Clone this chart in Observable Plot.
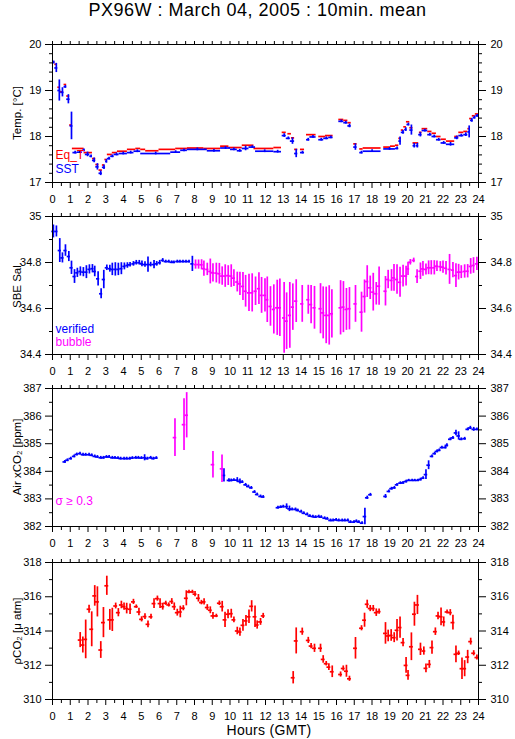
<!DOCTYPE html>
<html>
<head>
<meta charset="utf-8">
<script src="https://cdn.jsdelivr.net/npm/d3@7"></script>
<script src="https://cdn.jsdelivr.net/npm/@observablehq/plot@0.6"></script>
<style>
  html, body { margin: 0; padding: 0; background: white; }
  #wrap { position: relative; width: 515px; height: 739px; background: white; overflow: hidden;
          font-family: "Liberation Sans", Arial, Helvetica, sans-serif; color: black; }
  #title { position: absolute; top: 0px; left: 0; width: 515px; text-align: center; font-size: 18px; line-height: 21px; letter-spacing: 0.5px; }
  #xlabel { position: absolute; top: 722px; left: 169px; width: 200px; text-align: center; font-size: 14px; line-height: 16px; letter-spacing: 0.3px; }
  .panel { position: absolute; left: 0; }
  .ylab { position: absolute; left: 17px; font-size: 11.5px; white-space: nowrap; transform: translate(-50%, -50%) rotate(-90deg); line-height: 13px; }
</style>
</head>
<body>
<div id="wrap">
  <div id="title">PX96W : March 04, 2005 : 10min. mean</div>
  <div id="xlabel">Hours (GMT)</div>
</div>
<script>
// ---------------- DATA ----------------
const hourTicks = [0,1,2,3,4,5,6,7,8,9,10,11,12,13,14,15,16,17,18,19,20,21,22,23,24];
const halfHourTicks = [0.5,1.5,2.5,3.5,4.5,5.5,6.5,7.5,8.5,9.5,10.5,11.5,12.5,13.5,14.5,15.5,16.5,17.5,18.5,19.5,20.5,21.5,22.5,23.5];

// Panel 1: Temperature  [start hour, end hour, value]
const tempMajor = [17, 18, 19, 20];
const tempMinor = [17.2,17.4,17.6,17.8,18.2,18.4,18.6,18.8,19.2,19.4,19.6,19.8];
const eqT = [
[0.00,0.13,19.62],[0.13,0.25,19.57],[0.30,0.45,19.07],[0.45,0.60,18.97],[0.65,0.80,19.13],[0.80,0.97,18.88],[0.97,1.10,18.25],
[1.12,1.78,17.74],[1.78,2.25,17.65],[2.25,2.44,17.52],[2.44,2.62,17.39],[2.62,2.81,17.27],[2.81,2.95,17.38],[2.95,3.09,17.50],
[3.09,3.37,17.61],[3.37,3.66,17.65],[3.66,4.22,17.68],[4.22,4.69,17.72],[4.69,4.97,17.74],[4.97,5.25,17.72],[5.25,6.00,17.69],
[6.00,6.94,17.72],[6.94,7.60,17.74],[7.60,8.53,17.75],[8.53,9.47,17.74],[9.47,9.94,17.79],[9.94,10.69,17.76],[10.69,11.35,17.81],
[11.35,12.47,17.74],[12.47,12.90,17.76],
[12.94,13.17,18.09],[13.26,13.46,18.06],[13.46,13.64,17.97],[13.64,13.82,17.72],[13.97,14.20,17.72],[14.31,14.85,18.04],
[15.00,15.38,18.00],[15.38,15.81,18.02],[16.13,16.41,18.37],[16.41,16.64,18.35],[16.64,16.83,18.30],[16.97,17.16,17.84],
[17.31,17.50,17.73],[17.50,18.51,17.75],[18.66,19.04,17.77],[19.04,19.32,17.79],[19.32,19.51,17.81],[19.51,19.65,17.96],
[19.65,19.79,18.14],[19.79,19.94,18.21],[19.94,20.13,18.32],[20.13,20.31,18.19],[20.31,20.63,17.86],[20.67,20.82,18.09],
[20.82,21.14,18.17],[21.14,21.38,18.11],[21.38,21.63,18.07],[21.63,21.89,18.00],[21.89,22.19,17.94],[22.19,22.66,17.90],
[22.66,22.89,18.00],[22.89,23.17,18.09],[23.17,23.40,18.11],[23.40,23.50,18.17],[23.50,23.65,18.39],[23.65,23.82,18.45],[23.82,24.00,18.49]
];
// [start hour, end hour, value, std]
const sst = [
[0.00,0.13,19.61,0.03],[0.13,0.30,19.49,0.10],[0.30,0.47,19.00,0.23],[0.47,0.65,18.96,0.10],[0.65,0.80,19.08,0.03],[0.80,0.99,18.81,0.10],
[0.99,1.15,18.23,0.30],[1.15,1.40,17.65,0.03],[1.40,1.69,17.66,0.03],[1.69,1.85,17.70,0.03],[1.85,2.10,17.61,0.05],[2.10,2.25,17.57,0.03],
[2.25,2.44,17.48,0.05],[2.44,2.62,17.34,0.07],[2.62,2.81,17.20,0.05],[2.81,2.99,17.33,0.05],[2.99,3.09,17.46,0.04],[3.09,3.28,17.52,0.03],
[3.28,3.47,17.57,0.03],[3.47,3.75,17.61,0.03],[3.75,4.22,17.63,0.03],[4.22,4.59,17.65,0.03],[4.59,4.97,17.68,0.03],[4.97,6.66,17.63,0.03],
[6.66,7.22,17.66,0.03],[7.22,7.60,17.70,0.03],[7.60,8.72,17.72,0.03],[8.72,9.47,17.69,0.03],[9.47,10.03,17.75,0.03],[10.03,10.41,17.72,0.03],
[10.41,10.69,17.69,0.03],[10.69,11.07,17.74,0.05],[11.07,11.44,17.77,0.03],[11.44,12.47,17.68,0.03],[12.47,12.90,17.67,0.03],
[12.94,13.17,18.02,0.04],[13.17,13.40,17.96,0.03],[13.40,13.64,17.90,0.07],[13.64,13.82,17.63,0.09],[13.97,14.20,17.65,0.03],
[14.31,14.50,17.93,0.03],[14.50,14.85,17.99,0.03],[15.00,15.28,17.93,0.03],[15.28,15.56,17.96,0.03],[15.56,15.81,17.98,0.03],
[16.13,16.41,18.33,0.03],[16.41,16.64,18.30,0.03],[16.64,16.83,18.23,0.04],[16.97,17.16,17.77,0.07],[17.31,17.50,17.65,0.03],
[17.50,18.51,17.68,0.03],[18.66,19.32,17.73,0.03],[19.32,19.51,17.74,0.03],[19.51,19.65,17.90,0.09],[19.65,19.84,18.09,0.04],
[19.84,19.97,18.15,0.04],[19.97,20.13,18.26,0.03],[20.13,20.31,18.14,0.11],[20.31,20.45,17.80,0.05],[20.48,20.63,17.80,0.05],
[20.63,20.82,18.04,0.05],[20.82,21.14,18.13,0.03],[21.14,21.38,18.04,0.03],[21.38,21.63,18.00,0.03],[21.63,21.89,17.93,0.03],
[21.89,22.19,17.86,0.03],[22.19,22.66,17.83,0.04],[22.66,22.89,17.97,0.04],[22.89,23.17,18.02,0.03],[23.17,23.40,18.04,0.04],
[23.40,23.55,18.10,0.13],[23.55,23.70,18.35,0.04],[23.70,23.85,18.41,0.03],[23.85,24.00,18.45,0.03]
];

// Panel 2: SBE salinity  [hour, value, std]
const salMajor = [34.4, 34.6, 34.8, 35];
const salMinor = [34.5, 34.7, 34.9];
const salVerified = [
[0.05,34.935,0.028],[0.22,34.935,0.024],[0.41,34.852,0.052],[0.56,34.820,0.022],[0.73,34.852,0.025],[0.92,34.826,0.022],
[1.07,34.777,0.029],[1.24,34.739,0.030],[1.40,34.755,0.020],[1.57,34.761,0.020],[1.74,34.758,0.020],[1.91,34.758,0.028],
[2.08,34.770,0.020],[2.25,34.773,0.018],[2.38,34.761,0.023],[2.57,34.729,0.031],[2.74,34.664,0.022],[2.89,34.726,0.040],
[3.06,34.777,0.012],[3.23,34.773,0.015],[3.37,34.770,0.027],[3.54,34.770,0.029],[3.71,34.770,0.027],[3.88,34.773,0.026],
[4.05,34.783,0.015],[4.22,34.787,0.012],[4.37,34.790,0.010],[4.56,34.794,0.010],[4.72,34.799,0.010],[4.89,34.799,0.010],
[5.04,34.794,0.012],[5.21,34.791,0.012],[5.38,34.791,0.033],[5.53,34.791,0.010],[5.72,34.791,0.018],[5.87,34.794,0.010],
[6.04,34.799,0.010],[6.21,34.809,0.008],[6.38,34.804,0.006],[6.55,34.804,0.006],[6.71,34.801,0.006],[6.84,34.801,0.006],
[7.03,34.804,0.006],[7.18,34.804,0.006],[7.35,34.804,0.006],[7.52,34.804,0.006],[7.69,34.804,0.006],[7.88,34.794,0.033]
];
const salBubble = [
[8.06,34.791,0.020],[8.23,34.791,0.020],[8.40,34.790,0.022],[8.53,34.773,0.033],[8.72,34.770,0.027],[8.89,34.761,0.054],
[9.04,34.755,0.040],[9.23,34.754,0.043],[9.40,34.751,0.045],[9.56,34.741,0.040],[9.73,34.741,0.049],[9.90,34.743,0.043],
[10.07,34.741,0.049],[10.22,34.732,0.036],[10.41,34.715,0.043],[10.56,34.707,0.051],[10.73,34.696,0.061],[10.88,34.675,0.069],
[11.07,34.668,0.081],[11.25,34.668,0.083],[11.44,34.675,0.062],[11.63,34.686,0.069],[11.78,34.657,0.078],[11.97,34.657,0.072],
[12.10,34.638,0.099],[12.28,34.609,0.086],[12.47,34.596,0.107],[12.66,34.603,0.120],[12.81,34.603,0.125],
[13.05,34.559,0.154],[13.19,34.545,0.123],[13.37,34.570,0.143],[13.54,34.606,0.101],[13.73,34.632,0.093],[14.07,34.620,0.080],
[14.41,34.638,0.063],[14.57,34.617,0.083],[14.76,34.603,0.093],[15.10,34.599,0.109],[15.25,34.581,0.113],[15.42,34.570,0.123],
[15.59,34.570,0.129],[15.74,34.577,0.105],[16.23,34.603,0.118],[16.39,34.606,0.111],[16.56,34.596,0.091],[16.73,34.599,0.092],
[17.07,34.620,0.080],[17.41,34.584,0.087],[17.58,34.652,0.072],[17.73,34.717,0.069],[17.90,34.690,0.051],[18.07,34.671,0.082],
[18.24,34.664,0.049],[18.40,34.697,0.083],[18.76,34.675,0.064],[18.91,34.726,0.040],[19.10,34.722,0.047],[19.24,34.733,0.058],
[19.41,34.726,0.064],[19.58,34.714,0.065],[19.75,34.741,0.047],[19.92,34.741,0.043],[20.03,34.772,0.029],[20.16,34.801,0.012],
[20.35,34.809,0.010],[20.54,34.739,0.030],[20.73,34.762,0.036],[20.87,34.772,0.032],[21.04,34.770,0.024],[21.19,34.777,0.030],
[21.34,34.777,0.031],[21.51,34.777,0.031],[21.66,34.784,0.023],[21.85,34.782,0.022],[22.00,34.780,0.027],[22.17,34.775,0.029],
[22.37,34.770,0.065],[22.56,34.767,0.033],[22.73,34.743,0.052],[22.88,34.758,0.034],[23.03,34.758,0.028],[23.22,34.761,0.029],
[23.39,34.762,0.029],[23.56,34.783,0.034],[23.72,34.787,0.034],[23.91,34.794,0.029]
];

// Panel 3: Air xCO2  [hour, value, std]
const airMajor = [382, 383, 384, 385, 386, 387];
const airMinor = [382.5, 383.5, 384.5, 385.5, 386.5];
const airOk = [
[0.69,384.34,0.05],[0.84,384.40,0.05],[1.03,384.46,0.05],[1.22,384.54,0.05],[1.37,384.61,0.05],[1.55,384.64,0.05],
[1.72,384.60,0.05],[1.87,384.60,0.05],[2.06,384.60,0.05],[2.21,384.58,0.05],[2.38,384.54,0.05],[2.53,384.52,0.05],
[2.72,384.49,0.05],[2.87,384.49,0.05],[3.04,384.52,0.05],[3.19,384.52,0.05],[3.37,384.49,0.05],[3.52,384.49,0.05],
[3.69,384.48,0.05],[3.84,384.46,0.05],[4.03,384.46,0.05],[4.18,384.46,0.05],[4.35,384.46,0.05],[4.50,384.48,0.05],
[4.69,384.49,0.05],[4.84,384.49,0.05],[5.01,384.48,0.05],[5.19,384.49,0.11],[5.34,384.46,0.05],[5.53,384.49,0.05],
[5.68,384.46,0.05],[5.85,384.48,0.05],
[9.66,383.85,0.24],[9.94,383.67,0.06],[10.07,383.67,0.05],[10.22,383.68,0.05],[10.41,383.68,0.09],[10.56,383.63,0.09],
[10.69,383.61,0.05],[10.88,383.51,0.05],[11.03,383.45,0.05],[11.20,383.40,0.05],[11.38,383.25,0.05],[11.53,383.16,0.05],
[11.72,383.09,0.05],[11.87,383.07,0.05],
[12.70,382.68,0.05],[12.85,382.70,0.05],[13.00,382.72,0.05],[13.19,382.72,0.10],[13.35,382.64,0.10],[13.50,382.62,0.05],
[13.69,382.62,0.05],[13.82,382.58,0.05],[14.01,382.54,0.05],[14.16,382.48,0.05],[14.35,382.44,0.05],[14.50,382.38,0.05],
[14.67,382.36,0.05],[14.82,382.34,0.05],[15.00,382.36,0.05],[15.14,382.34,0.05],[15.33,382.30,0.05],[15.48,382.28,0.05],
[15.66,382.22,0.05],[15.81,382.22,0.05],[15.98,382.24,0.05],[16.13,382.22,0.05],[16.32,382.22,0.05],[16.47,382.22,0.05],
[16.64,382.22,0.05],[16.79,382.16,0.05],[16.98,382.16,0.05],[17.12,382.19,0.05],[17.26,382.16,0.05],[17.44,382.12,0.05],
[17.60,382.36,0.30],[17.73,383.04,0.06],[17.91,383.15,0.05],
[18.76,383.09,0.07],[18.95,383.27,0.05],[19.10,383.37,0.05],[19.26,383.40,0.05],[19.41,383.51,0.05],[19.60,383.57,0.05],
[19.75,383.58,0.05],[19.92,383.63,0.05],[20.07,383.67,0.04],[20.26,383.67,0.04],[20.41,383.67,0.04],[20.58,383.67,0.04],
[20.73,383.70,0.05],[20.88,383.75,0.05],[21.04,383.88,0.18],[21.19,384.22,0.16],[21.38,384.54,0.05],[21.53,384.64,0.05],
[21.66,384.72,0.05],[21.79,384.76,0.05],[21.94,384.86,0.05],[22.13,384.86,0.05],[22.22,384.94,0.06],[22.41,385.16,0.05],
[22.56,385.21,0.05],[22.73,385.39,0.10],[22.88,385.28,0.15],[23.03,385.16,0.05],[23.22,385.18,0.05],[23.39,385.52,0.05],
[23.54,385.57,0.06],[23.73,385.52,0.07],[23.91,385.52,0.05]
];
const airHighSigma = [
[6.90,385.22,0.68],[7.41,385.69,0.94],[7.56,386.03,0.82],[9.04,384.24,0.48],[9.55,384.09,0.50]
];

// Panel 4: pCO2  [hour, value, std]
const pco2Major = [310, 312, 314, 316, 318];
const pco2Minor = [311, 313, 315, 317];
const pco2 = [
[1.56,313.47,0.44],[1.71,313.18,0.47],[1.87,313.51,1.13],[2.06,315.27,0.24],[2.21,314.10,1.02],[2.38,316.05,0.60],
[2.53,315.70,0.88],[2.72,312.89,0.49],[2.87,314.49,0.88],[3.06,316.64,0.56],[3.23,314.65,0.61],[3.37,314.65,0.68],
[3.56,315.46,0.17],[3.71,315.07,0.24],[3.88,315.52,0.22],[4.03,315.42,0.21],[4.18,315.31,0.31],[4.37,315.27,0.31],
[4.56,315.70,0.15],[4.72,315.42,0.10],[4.87,315.11,0.22],[5.02,314.68,0.15],[5.21,314.84,0.17],[5.38,314.39,0.20],
[5.55,314.83,0.15],[5.72,315.60,0.29],[5.91,315.89,0.15],[6.06,315.60,0.29],[6.21,315.42,0.20],[6.38,315.62,0.12],
[6.55,315.52,0.12],[6.72,315.72,0.17],[6.86,315.42,0.22],[7.03,315.07,0.20],[7.20,315.11,0.34],[7.37,315.33,0.15],
[7.54,315.91,0.44],[7.69,316.28,0.10],[7.88,316.28,0.10],[8.03,316.15,0.15],[8.22,315.91,0.22],[8.39,315.66,0.13],
[8.54,315.70,0.18],[8.72,315.37,0.17],[8.89,315.21,0.20],[9.04,314.88,0.20],[9.23,314.88,0.10],[9.40,315.62,0.13],
[9.56,315.42,0.31],[9.72,314.65,0.44],[9.89,314.98,0.26],[10.07,315.01,0.26],[10.22,314.65,0.17],[10.41,314.00,0.22],
[10.56,313.94,0.24],[10.73,314.33,0.34],[10.90,314.59,0.31],[11.07,314.83,0.39],[11.22,315.44,0.33],[11.41,314.83,0.63],
[11.53,314.35,0.24],[11.72,314.53,0.20],[11.87,314.88,0.15],
[13.56,311.27,0.36],[13.73,313.42,0.76],[14.07,313.96,0.21],[14.41,313.45,0.18],[14.57,313.12,0.15],[14.76,312.99,0.24],
[15.10,312.99,0.24],[15.25,312.34,0.22],[15.42,312.09,0.13],[15.57,311.89,0.20],[15.76,311.62,0.34],[16.23,311.46,0.15],
[16.38,311.81,0.15],[16.56,311.65,0.35],[16.73,311.21,0.15],[17.07,312.99,0.63],[17.41,314.16,0.15],[17.58,314.63,0.41],
[17.73,315.56,0.24],[17.90,315.31,0.18],[18.07,315.31,0.18],[18.24,315.07,0.22],[18.40,315.13,0.15],[18.76,313.86,0.63],
[18.91,313.71,0.34],[19.08,313.74,0.34],[19.25,313.61,0.29],[19.41,314.04,0.63],[19.58,314.20,0.62],[19.75,313.32,0.24],
[19.92,311.99,0.46],[20.03,311.41,0.29],[20.22,313.08,0.81],[20.39,314.98,0.70],[20.56,315.52,0.56],[20.73,312.93,0.36],
[20.92,312.83,0.24],[21.04,311.82,0.26],[21.23,312.05,0.23],[21.38,313.03,0.39],[21.57,313.96,0.22],[21.72,314.88,0.22],
[21.89,314.83,0.52],[22.04,314.53,0.29],[22.23,315.11,0.12],[22.41,315.07,0.18],[22.56,314.49,0.43],[22.73,312.64,0.49],
[22.88,312.70,0.13],[23.07,311.80,0.63],[23.22,311.80,0.47],[23.39,312.48,0.39],[23.56,313.38,0.20],[23.73,312.70,0.15],
[23.91,312.45,0.15]
];

// ---------------- DRAWING ----------------
const FONT = '"Liberation Sans", Arial, Helvetica, sans-serif';
const RED = "#ff0000", BLUE = "#0000ff", MAGENTA = "#ff00ff";
const SW = 1.7;
const blank = () => "";
const num = d => String(d);
const wrap = document.getElementById("wrap");

function crosses(data, color, half) {
  return [
    Plot.ruleY(data, {x1: d => d[0] - half, x2: d => d[0] + half, y: d => d[1], stroke: color, strokeWidth: SW}),
    Plot.ruleX(data, {x: d => d[0], y1: d => d[1] - d[2], y2: d => d[1] + d[2], stroke: color, strokeWidth: SW})
  ];
}
function legend(text, color, dy) {
  return Plot.text([text], {text: d => d, frameAnchor: "bottom-left", textAnchor: "start", dx: 3, dy, fill: color, fontSize: 12});
}

function panel({frameTop, frameH, domain, major, minor, label, marks}) {
  const mt = 14, mb = 26;
  const svg = Plot.plot({
    width: 515, height: mt + frameH + mb,
    marginTop: mt, marginBottom: mb, marginLeft: 52, marginRight: 37,
    style: {background: "transparent", overflow: "visible", fontFamily: FONT, fontSize: "11px", color: "black"},
    x: {domain: [0, 24]},
    y: {domain},
    marks: [
      ...marks,
      Plot.frame({stroke: "black", strokeWidth: 1}),
      Plot.axisX({anchor: "top", ticks: hourTicks.concat(halfHourTicks), tickSize: 4, tickFormat: blank, label: null}),
      Plot.axisX({anchor: "bottom", ticks: hourTicks, tickSize: 6, tickPadding: 7, tickFormat: num, label: null}),
      Plot.axisX({anchor: "bottom", ticks: halfHourTicks, tickSize: 4, tickFormat: blank, label: null}),
      Plot.axisY({anchor: "left", ticks: major, tickSize: 7, tickPadding: 4, tickFormat: num, label: null}),
      Plot.axisY({anchor: "left", ticks: minor, tickSize: 3, tickFormat: blank, label: null}),
      Plot.axisY({anchor: "right", ticks: major, tickSize: 7, tickPadding: 5, tickFormat: num, label: null}),
      Plot.axisY({anchor: "right", ticks: minor, tickSize: 3, tickFormat: blank, label: null})
    ]
  });
  svg.classList.add("panel");
  svg.style.top = (frameTop - mt) + "px";
  svg.style.position = "absolute";
  svg.style.left = "0px";
  wrap.appendChild(svg);
  const yl = document.createElement("div");
  yl.className = "ylab";
  yl.textContent = label;
  yl.style.top = (frameTop + frameH / 2) + "px";
  wrap.appendChild(yl);
}

panel({
  frameTop: 44, frameH: 138, domain: [17, 20], major: tempMajor, minor: tempMinor, label: "Temp. [°C]",
  marks: [
    Plot.ruleY(eqT, {x1: d => d[0], x2: d => d[1], y: d => d[2], stroke: RED, strokeWidth: SW}),
    Plot.ruleY(sst, {x1: d => d[0], x2: d => d[1], y: d => d[2], stroke: BLUE, strokeWidth: SW}),
    Plot.ruleX(sst, {x: d => (d[0] + d[1]) / 2, y1: d => d[2] - d[3], y2: d => d[2] + d[3], stroke: BLUE, strokeWidth: SW}),
    legend("Eq_T", RED, -24),
    legend("SST", BLUE, -10)
  ]
});

panel({
  frameTop: 216, frameH: 138, domain: [34.4, 35], major: salMajor, minor: salMinor, label: "SBE Sal.",
  marks: [
    ...crosses(salVerified, BLUE, 0.09),
    ...crosses(salBubble, MAGENTA, 0.09),
    legend("verified", BLUE, -22),
    legend("bubble", MAGENTA, -9)
  ]
});

panel({
  frameTop: 388, frameH: 138, domain: [382, 387], major: airMajor, minor: airMinor, label: "Air xCO₂ [ppm]",
  marks: [
    ...crosses(airOk, BLUE, 0.1),
    ...crosses(airHighSigma, MAGENTA, 0.1),
    legend("σ ≥ 0.3", MAGENTA, -22)
  ]
});

panel({
  frameTop: 562, frameH: 137, domain: [310, 318], major: pco2Major, minor: pco2Minor, label: "ρCO₂ [μ atm]",
  marks: [
    ...crosses(pco2, RED, 0.11)
  ]
});
</script>
</body>
</html>
